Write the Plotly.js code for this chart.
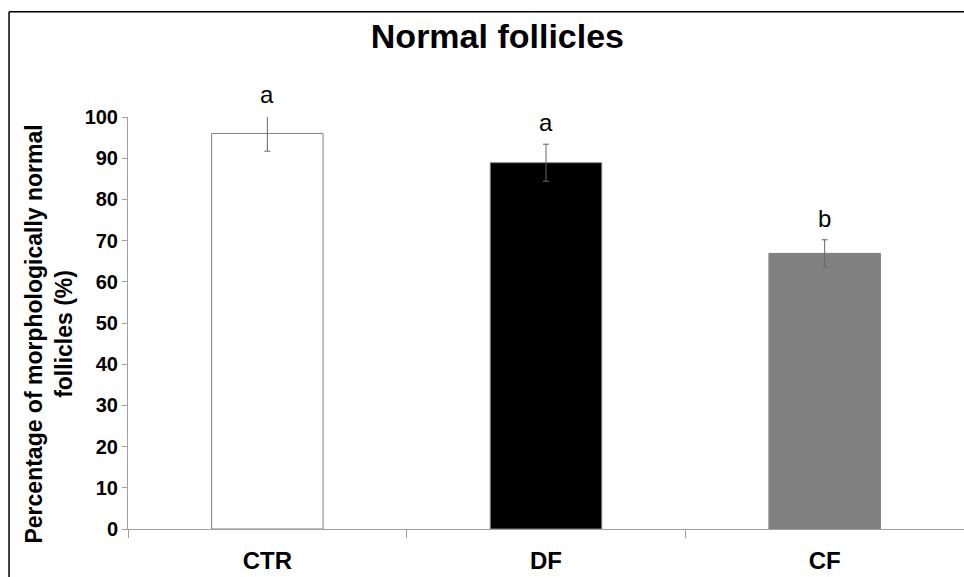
<!DOCTYPE html>
<html>
<head>
<meta charset="utf-8">
<script src="https://cdn.plot.ly/plotly-3.0.1.min.js"></script>
<style>html,body{margin:0;padding:0;background:#fff;}#chart{width:964px;height:577px;}</style>
</head>
<body>
<div id="chart"></div>
<script>
// Data
const categories = ["CTR", "DF", "CF"];
const means = [96.0, 88.9, 66.9];
const errors = [4.3, 4.5, 3.3];
const letters = ["a", "a", "b"];
const barColors = ["#ffffff", "#000000", "#808080"];
const yTicks = [0, 10, 20, 30, 40, 50, 60, 70, 80, 90, 100];
const yMax = 100;

const FONT = "Liberation Sans, Arial, sans-serif";

const trace = {
  type: "bar",
  x: categories,
  y: means,
  marker: { color: barColors, line: { color: "#808080", width: 1 } },
  error_y: { type: "data", array: errors, visible: true, color: "#666666", thickness: 1, width: 3 },
  cliponaxis: false,
  hoverinfo: "none"
};

const annotations = categories.map((c, i) => ({
  x: c, xref: "x",
  y: (means[i] + errors[i]) / yMax, yref: "paper",
  yanchor: "bottom", yshift: 6,
  text: letters[i], showarrow: false,
  font: { family: FONT, size: 24, color: "#000" }
}));

annotations.push({
  xref: "paper", yref: "paper",
  x: -0.094, y: 0.473,
  xanchor: "center", yanchor: "middle",
  textangle: -90,
  text: "Percentage of morphologically normal<br>follicles (%)",
  showarrow: false,
  font: { family: FONT, size: 23, color: "#000", weight: "bold" }
});

const layout = {
  width: 964, height: 577,
  margin: { l: 128, r: 0, t: 117, b: 48, pad: 0 },
  paper_bgcolor: "#ffffff",
  plot_bgcolor: "#ffffff",
  showlegend: false,
  bargap: 0.6,
  title: {
    text: "Normal follicles",
    xref: "container", x: 0.516, xanchor: "center",
    yref: "container", y: 1 - 36 / 577, yanchor: "middle",
    font: { family: FONT, size: 34, color: "#000", weight: "bold" }
  },
  xaxis: {
    type: "category",
    range: [-0.5, 2.5],
    showline: true, linecolor: "#a0a0a0", linewidth: 1,
    ticks: "outside", tickson: "boundaries", ticklen: 8, tickcolor: "#a0a0a0",
    showgrid: false, zeroline: false,
    tickfont: { family: FONT, size: 24, color: "#000", weight: "bold" },
    ticklabelstandoff: 10
  },
  yaxis: {
    range: [0, yMax],
    tickvals: yTicks,
    showline: true, linecolor: "#a0a0a0", linewidth: 1,
    ticks: "outside", ticklen: 5, tickcolor: "#a0a0a0",
    showgrid: false, zeroline: false,
    tickfont: { family: FONT, size: 20, color: "#000", weight: "bold" }
  },
  annotations: annotations,
  shapes: [
    { type: "line", xref: "paper", yref: "paper", x0: -0.1423, x1: 1.01, y0: 1.2552, y1: 1.2552, line: { color: "#000", width: 1.5 } },
    { type: "line", xref: "paper", yref: "paper", x0: -0.1423, x1: -0.1423, y0: 1.2552, y1: -0.2, line: { color: "#000", width: 1.5 } }
  ]
};

Plotly.newPlot("chart", [trace], layout, { displayModeBar: false, staticPlot: true });
</script>
</body>
</html>
